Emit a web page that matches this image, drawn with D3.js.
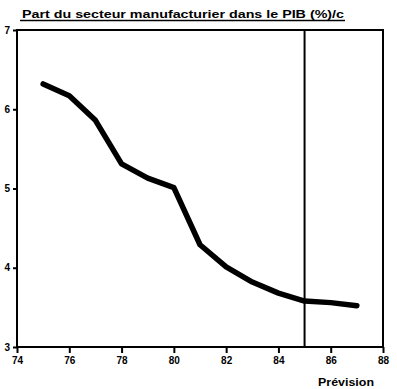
<!DOCTYPE html>
<html>
<head>
<meta charset="utf-8">
<script src="https://cdn.jsdelivr.net/npm/d3@7"></script>
<style>
  body { margin: 0; background: #fff; }
  svg { display: block; }
</style>
</head>
<body>
<script>
// Data
const years = [75, 76, 77, 78, 79, 80, 81, 82, 83, 84, 85, 86, 87];
const share = [6.32, 6.17, 5.86, 5.31, 5.13, 5.01, 4.29, 4.01, 3.82, 3.68, 3.58, 3.56, 3.52];
const xTicks = [74, 76, 78, 80, 82, 84, 86, 88];
const yTicks = [3, 4, 5, 6, 7];
const forecastYear = 85;
const title = "Part du secteur manufacturier dans le PIB (%)/c";
const forecastLabel = "Prévision";

const width = 397, height = 389;
const margin = { top: 30, right: 14, bottom: 42, left: 17 };

const svg = d3.select("body").append("svg")
  .attr("width", width)
  .attr("height", height)
  .style("font-family", "'Liberation Sans', Arial, sans-serif")
  .style("font-weight", "bold");

const x = d3.scaleLinear()
  .domain([74, 88])
  .range([margin.left, width - margin.right]);

const y = d3.scaleLinear()
  .domain([3, 7])
  .range([height - margin.bottom, margin.top]);

// frame
svg.append("rect")
  .attr("x", x(74))
  .attr("y", y(7))
  .attr("width", x(88) - x(74))
  .attr("height", y(3) - y(7))
  .attr("fill", "none")
  .attr("stroke", "#000")
  .attr("stroke-width", 2);

// x axis
const xAxis = svg.append("g")
  .attr("transform", `translate(0,${y(3)})`)
  .call(d3.axisBottom(x).tickValues(xTicks).tickSize(6).tickPadding(4).tickFormat(d3.format("d")));
xAxis.select(".domain").remove();
xAxis.selectAll("line").attr("stroke", "#000").attr("stroke-width", 2);
xAxis.selectAll("text")
  .attr("fill", "#000")
  .style("font-size", "10px")
  .style("font-weight", "bold");

// y axis
const yAxis = svg.append("g")
  .attr("transform", `translate(${x(74)},0)`)
  .call(d3.axisLeft(y).tickValues(yTicks).tickSize(4).tickPadding(3).tickFormat(d3.format("d")));
yAxis.select(".domain").remove();
yAxis.selectAll("line").attr("stroke", "#000").attr("stroke-width", 2);
yAxis.selectAll("text")
  .attr("fill", "#000")
  .style("font-size", "10px")
  .style("font-weight", "bold");

// forecast divider
svg.append("line")
  .attr("x1", x(forecastYear))
  .attr("x2", x(forecastYear))
  .attr("y1", y(7))
  .attr("y2", y(3))
  .attr("stroke", "#000")
  .attr("stroke-width", 2);

// the series
const line = d3.line()
  .x((d, i) => x(years[i]))
  .y(d => y(d));

svg.append("path")
  .datum(share)
  .attr("d", line)
  .attr("fill", "none")
  .attr("stroke", "#000")
  .attr("stroke-width", 5.5)
  .attr("stroke-linecap", "round")
  .attr("stroke-linejoin", "round");

// title, underlined
svg.append("text")
  .attr("x", 22)
  .attr("y", 18)
  .attr("textLength", 322)
  .attr("lengthAdjust", "spacingAndGlyphs")
  .style("font-size", "11px")
  .text(title);

svg.append("line")
  .attr("x1", 20)
  .attr("x2", 345)
  .attr("y1", 20.5)
  .attr("y2", 20.5)
  .attr("stroke", "#000")
  .attr("stroke-width", 1.5);

svg.append("text")
  .attr("x", 346)
  .attr("y", 386)
  .attr("text-anchor", "middle")
  .attr("textLength", 56)
  .attr("lengthAdjust", "spacingAndGlyphs")
  .style("font-size", "11px")
  .text(forecastLabel);
</script>
</body>
</html>
